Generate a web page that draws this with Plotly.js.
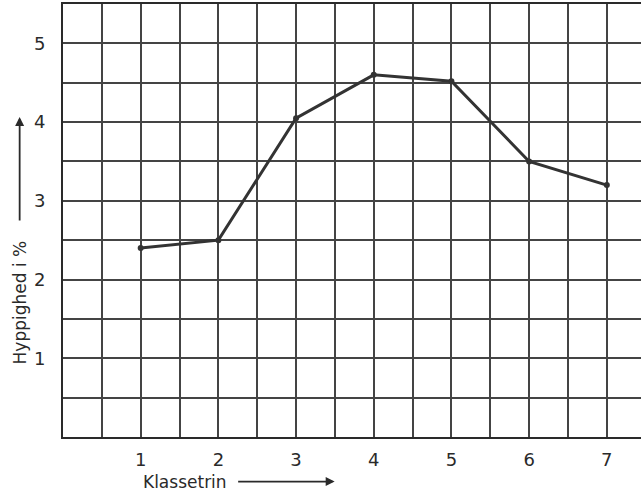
<!DOCTYPE html>
<html><head><meta charset="utf-8">
<script src="https://cdn.plot.ly/plotly-3.0.1.min.js"></script>
<style>body{margin:0;background:#fff}#c{width:641px;height:501px}</style>
</head><body><div id="c"></div>
<script>
var klassetrin = [1, 2, 3, 4, 5, 6, 7];
var hyppighed = [2.4, 2.5, 4.05, 4.6, 4.52, 3.5, 3.2];
var xTicks = [1, 2, 3, 4, 5, 6, 7];
var yTicks = [1, 2, 3, 4, 5];
var xTitle = 'Klassetrin';
var yTitle = 'Hyppighed i %';

function halfGrid(maxV, labels) {
  var vals = [], txt = [];
  for (var v = 0.5; v <= maxV + 1e-9; v += 0.5) {
    vals.push(v);
    txt.push(labels.indexOf(v) >= 0 ? String(v) : '');
  }
  return {vals: vals, txt: txt};
}
var gx = halfGrid(7.0, xTicks);
var gy = halfGrid(5.0, yTicks);

var ink = '#2a2a2a';
var fnt = {family: 'DejaVu Sans, sans-serif', size: 18, color: ink};

var trace = {
  x: klassetrin, y: hyppighed, type: 'scatter', mode: 'lines+markers',
  line: {color: '#333', width: 3}, marker: {color: '#333', size: 6},
  hoverinfo: 'skip'
};

var layout = {
  width: 641, height: 501,
  margin: {l: 63, r: 0, t: 4, b: 64},
  paper_bgcolor: '#fff', plot_bgcolor: '#fff',
  showlegend: false, hovermode: false,
  font: fnt,
  xaxis: {
    range: [0, 7.44], tickmode: 'array', tickvals: gx.vals, ticktext: gx.txt,
    showgrid: true, gridcolor: '#444', gridwidth: 2,
    showline: true, linecolor: ink, linewidth: 2, mirror: true,
    zeroline: false, ticks: '', ticklabelstandoff: 5, tickfont: fnt, fixedrange: true
  },
  yaxis: {
    range: [0, 5.5], tickmode: 'array', tickvals: gy.vals, ticktext: gy.txt,
    showgrid: true, gridcolor: '#444', gridwidth: 2,
    showline: true, linecolor: ink, linewidth: 2, mirror: true,
    zeroline: false, ticks: '', ticklabelstandoff: 12, tickfont: fnt, fixedrange: true
  },
  annotations: [
    {xref: 'paper', yref: 'paper', x: -0.075, y: 0.31, xanchor: 'center', yanchor: 'middle',
     text: yTitle, textangle: -90, showarrow: false, font: {family: fnt.family, size: 17, color: ink}},
    {xref: 'paper', yref: 'paper', x: -0.075, y: 0.739, showarrow: true, ax: 0, ay: 105,
     arrowhead: 2, arrowsize: 1, arrowwidth: 1.8, arrowcolor: ink, text: ''},
    {xref: 'paper', yref: 'paper', x: 0.135, y: -0.105, xanchor: 'left', yanchor: 'middle',
     text: xTitle, showarrow: false, font: {family: fnt.family, size: 17, color: ink}},
    {xref: 'paper', yref: 'paper', x: 0.47, y: -0.103, showarrow: true, ax: -98, ay: 0,
     arrowhead: 2, arrowsize: 1, arrowwidth: 1.8, arrowcolor: ink, text: ''}
  ]
};
Plotly.newPlot('c', [trace], layout, {displayModeBar: false});
</script></body></html>
